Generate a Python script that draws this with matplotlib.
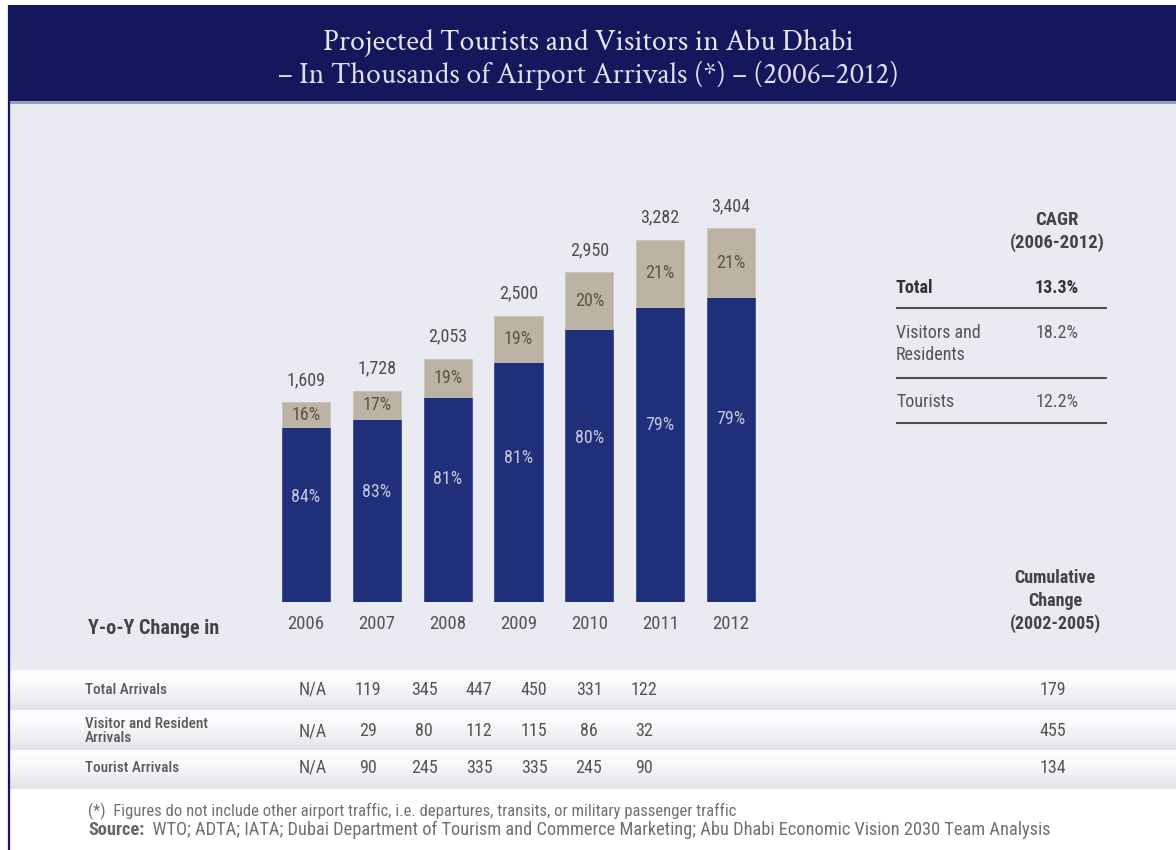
import matplotlib
matplotlib.use("Agg")
import matplotlib.pyplot as plt
import numpy as np
from matplotlib.patches import Rectangle

# ---- data -------------------------------------------------------------
years = ["2006", "2007", "2008", "2009", "2010", "2011", "2012"]
total_arrivals = [1609, 1728, 2053, 2500, 2950, 3282, 3404]
tourist_share = [84, 83, 81, 81, 80, 79, 79]          # % (dark segment)
visitor_share = [16, 17, 19, 19, 20, 21, 21]          # % (light segment)

cagr_labels = ["Total", "Visitors and\nResidents", "Tourists"]
cagr_values = ["13.3%", "18.2%", "12.2%"]

yoy_rows = ["Total Arrivals", "Visitor and Resident\nArrivals", "Tourist Arrivals"]
yoy_total = ["N/A", "119", "345", "447", "450", "331", "122"]
yoy_visitor = ["N/A", "29", "80", "112", "115", "86", "32"]
yoy_tourist = ["N/A", "90", "245", "335", "335", "245", "90"]
cumulative = ["179", "455", "134"]

# ---- style ------------------------------------------------------------
SANS = ["Roboto Condensed", "DejaVu Sans"]
SERIF = ["Crimson Text", "DejaVu Serif"]
NAVY = "#13175c"
DARK_BAR = "#1f2f7a"
LIGHT_BAR = "#bcb3a5"
PANEL = "#e9eaf2"
TXT = "#4d4d4d"
BAR_FLOOR = -454      # visual baseline of the bars (value axis starts below zero)

W, H = 1176, 850
fig = plt.figure(figsize=(W / 100, H / 100), dpi=100)
fig.patch.set_facecolor("white")

# background axes in pixel coordinates
bg = fig.add_axes([0, 0, 1, 1])
bg.set_xlim(0, W)
bg.set_ylim(H, 0)
bg.axis("off")

# header banner
bg.add_patch(Rectangle((8, 5), W - 8, 96, color=NAVY, lw=0, zorder=1))
bg.add_patch(Rectangle((8, 101), W - 8, 3, color="#9a9cbc", lw=0, zorder=1))
# light panel
bg.add_patch(Rectangle((9, 104), W - 9, 566, color=PANEL, lw=0, zorder=0))
# left border line
bg.plot([8.5, 8.5], [5, H], color=NAVY, lw=1.6, zorder=2, solid_capstyle="butt")

# table bands with a soft vertical gradient
grad = np.linspace(0, 1, 64).reshape(-1, 1)
band_edges = [670, 710, 750, 789]
for top, bot in zip(band_edges[:-1], band_edges[1:]):
    img = np.ones((64, 1, 3))
    c_top = np.array([0.995, 0.995, 1.0])
    c_bot = np.array([0.885, 0.888, 0.915])
    img[:, 0, :] = c_top + (c_bot - c_top) * grad ** 1.6
    bg.imshow(img, extent=(9, W, bot, top), aspect="auto", zorder=0.5,
              interpolation="bilinear")
bg.set_xlim(0, W)
bg.set_ylim(H, 0)

# title
bg.text(588, 43, "Projected Tourists and Visitors in Abu Dhabi", color="#e8e8f2",
        fontsize=21.5, family=SERIF, ha="center", va="center", zorder=3)
bg.text(588, 75, "\u2013 In Thousands of Airport Arrivals (*) \u2013 (2006\u20132012)",
        color="#e0e0ee", fontsize=21.5, family=SERIF, ha="center", va="center", zorder=3)

# ---- stacked bars -----------------------------------------------------
ax = fig.add_axes([270.6 / W, (H - 602) / H, 495.8 / W, (602 - 180) / H])
ax.set_xlim(-0.5, len(years) - 0.5)
ax.set_ylim(BAR_FLOOR, 3901)
ax.axis("off")

x = np.arange(len(years))
total = np.array(total_arrivals, dtype=float)
tour = total * np.array(tourist_share) / 100.0

ax.bar(x, tour - BAR_FLOOR, bottom=BAR_FLOOR, width=0.678, color=DARK_BAR,
       edgecolor="#3a4a90", linewidth=0.6)
ax.bar(x, total - tour, bottom=tour, width=0.678, color=LIGHT_BAR,
       edgecolor="#c9c1b4", linewidth=0.6)

for i in range(len(years)):
    ax.annotate(f"{total_arrivals[i]:,}", xy=(x[i], total[i]), xytext=(0, 16),
                textcoords="offset points", ha="center", va="center",
                fontsize=13, family=SANS, color=TXT)
    ax.text(x[i], (total[i] + tour[i]) / 2, f"{visitor_share[i]}%", ha="center",
            va="center", fontsize=13, family=SANS, color="#5d5446")
    ax.text(x[i], BAR_FLOOR + 0.6 * (tour[i] - BAR_FLOOR), f"{tourist_share[i]}%",
            ha="center", va="center", fontsize=13, family=SANS, color="#c3c8df")
    ax.annotate(years[i], xy=(x[i], BAR_FLOOR), xytext=(0, -16),
                textcoords="offset points", ha="center", va="center",
                fontsize=13.5, family=SANS, color="#555555")

# ---- CAGR block -------------------------------------------------------
bg.text(1057, 220, "CAGR", fontsize=13.5, family=SANS, weight="bold", color="#444444",
        ha="center", va="center")
bg.text(1057, 243, "(2006-2012)", fontsize=13.5, family=SANS, weight="bold",
        color="#444444", ha="center", va="center")
cagr_y = [288, 333, 402]
rule_y = [308, 378, 423]
for i, (lab, val) in enumerate(zip(cagr_labels, cagr_values)):
    w = "bold" if i == 0 else "normal"
    c = "#333333" if i == 0 else "#555555"
    bg.text(896, cagr_y[i] - 9, lab, fontsize=13, family=SANS, weight=w, color=c,
            ha="left", va="top", linespacing=1.3)
    bg.text(1057, cagr_y[i], val, fontsize=13, family=SANS, weight=w, color=c,
            ha="center", va="center")
    bg.plot([896, 1107], [rule_y[i], rule_y[i]], color="#505050", lw=1.5,
            solid_capstyle="butt")

# ---- year-over-year table ---------------------------------------------
bg.text(88, 628, "Y-o-Y Change in", fontsize=14.5, family=SANS, weight="bold",
        color="#444444", ha="left", va="center")
bg.text(1055, 601, "Cumulative\nChange\n(2002-2005)", fontsize=13, family=SANS,
        weight="bold", color="#444444", ha="center", va="center", linespacing=1.3)

row_y = [690, 731, 768]
col_x = [313, 368, 424, 479, 534, 589, 644]
for r, (lab, vals) in enumerate(zip(yoy_rows, [yoy_total, yoy_visitor, yoy_tourist])):
    bg.text(85, row_y[r], lab, fontsize=11, family=SANS, weight="medium",
            color="#5a5a5a", ha="left", va="center", linespacing=0.95)
    for cx, v in zip(col_x, vals):
        bg.text(cx, row_y[r], v, fontsize=13, family=SANS, color="#555555",
                ha="center", va="center")
    bg.text(1053, row_y[r], cumulative[r], fontsize=13, family=SANS,
            color="#555555", ha="center", va="center")

# ---- notes ------------------------------------------------------------
bg.text(88, 811, "(*)  Figures do not include other airport traffic, i.e. departures, "
        "transits, or military passenger traffic", fontsize=12, family=SANS,
        color="#707070", ha="left", va="center")
src = bg.text(88, 830, "Source:", fontsize=13.2, family=SANS, weight="bold",
              color="#666666", ha="left", va="center")
bg.annotate("  WTO; ADTA; IATA; Dubai Department of Tourism and Commerce Marketing; "
            "Abu Dhabi Economic Vision 2030 Team Analysis", xy=(1, 0.5),
            xycoords=src, ha="left", va="center", fontsize=13.2, family=SANS,
            color="#707070")

fig.savefig("out.png", dpi=100, facecolor=fig.get_facecolor())
